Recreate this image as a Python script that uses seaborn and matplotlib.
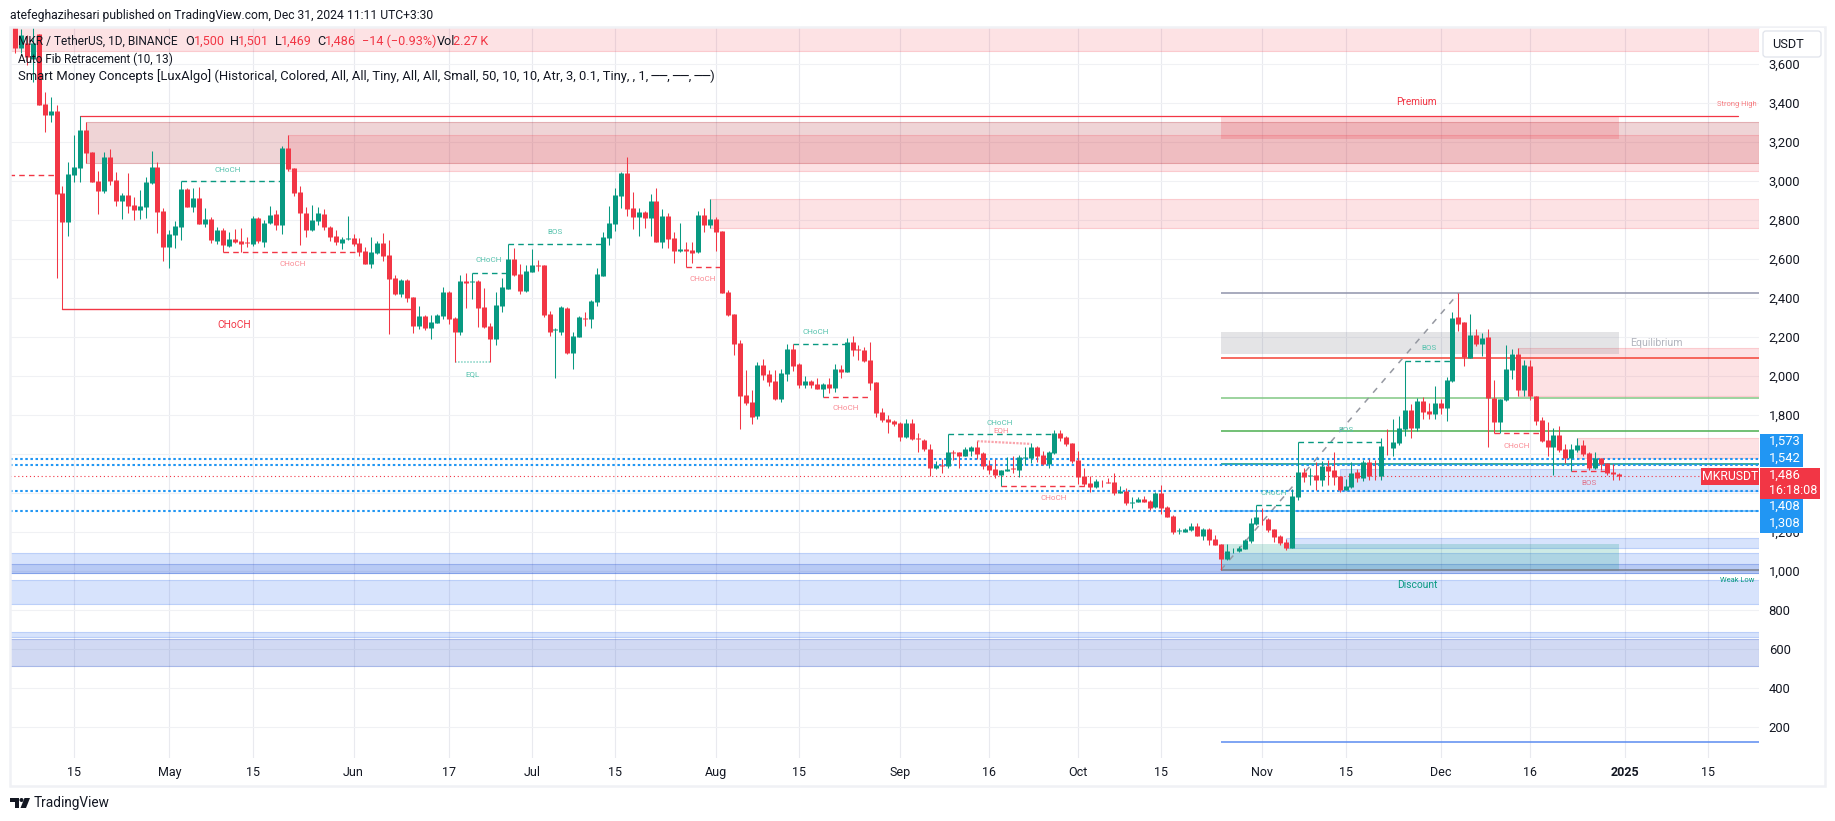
import numpy as np
import pandas as pd
import matplotlib.pyplot as plt
from matplotlib.colors import to_rgba
from matplotlib.patches import Rectangle, Polygon, Circle, FancyBboxPatch
import seaborn as sns

# days are counted from Apr 15 2024, last candle Dec 31 = 260
first_day = -10
opens = [3900, 3682, 3709, 3624, 3754, 3395, 3338, 3359, 2938, 2791,
         3031, 3068, 3261, 3149, 2998, 2949, 3123, 3005, 2897, 2926,
         2877, 2851, 2868, 2988, 3072, 2846, 2661, 2723, 2766, 2959,
         2868, 2913, 2781, 2805, 2692, 2749, 2667, 2703, 2692, 2687,
         2677, 2810, 2687, 2785, 2831, 2776, 3169, 3067, 2944, 2834,
         2749, 2797, 2831, 2764, 2716, 2682, 2703, 2708, 2682, 2641,
         2574, 2631, 2682, 2621, 2503, 2421, 2492, 2405, 2256, 2308,
         2246, 2272, 2308, 2431, 2297, 2226, 2487, 2482, 2487, 2354,
         2256, 2190, 2359, 2446, 2600, 2523, 2436, 2533, 2569, 2569,
         2318, 2234, 2226, 2349, 2118, 2200, 2296, 2292, 2379, 2513,
         2708, 2780, 2923, 3041, 2862, 2815, 2841, 2810, 2897, 2687,
         2821, 2708, 2641, 2651, 2646, 2636, 2826, 2774, 2805, 2744,
         2431, 2318, 2169, 1903, 1867, 1795, 2056, 2010, 1974, 1882,
         2010, 2138, 2062, 1954, 1974, 1959, 1933, 1959, 1938, 2036,
         2020, 2174, 2138, 2133, 2082, 1969, 1815, 1780, 1769, 1759,
         1687, 1759, 1682, 1672, 1626, 1528, 1544, 1539, 1610, 1610,
         1590, 1615, 1636, 1605, 1544, 1523, 1492, 1513, 1528, 1518,
         1580, 1580, 1636, 1595, 1549, 1605, 1708, 1687, 1656, 1569,
         1487, 1451, 1431, 1456, 1455, 1456, 1400, 1410, 1350, 1354,
         1369, 1359, 1328, 1400, 1328, 1282, 1205, 1200, 1210, 1231,
         1180, 1215, 1164, 1138, 1062, 1106, 1103, 1113, 1154, 1243,
         1268, 1267, 1215, 1179, 1149, 1118, 1380, 1508, 1487, 1492,
         1467, 1538, 1518, 1487, 1415, 1431, 1508, 1477, 1559, 1499,
         1487, 1642, 1631, 1656, 1728, 1826, 1733, 1872, 1821, 1805,
         1862, 1836, 1974, 2303, 2277, 2092, 2210, 2164, 2200, 1887,
         1764, 1877, 2031, 2113, 1928, 2051, 1897, 1774, 1672, 1636,
         1697, 1626, 1579, 1620, 1646, 1605, 1528, 1579, 1554, 1508,
         1500]
closes = [3682, 3749, 3634, 3706, 3390, 3338, 3359, 2935, 2791, 3036,
          3072, 3261, 3145, 2996, 2949, 3123, 3000, 2897, 2928, 2872,
          2851, 2872, 2995, 3072, 2843, 2661, 2728, 2769, 2959, 2868,
          2913, 2781, 2805, 2699, 2749, 2673, 2703, 2687, 2677, 2684,
          2810, 2692, 2785, 2824, 2776, 3169, 3063, 2940, 2838, 2750,
          2800, 2836, 2764, 2713, 2689, 2703, 2706, 2679, 2636, 2574,
          2636, 2682, 2615, 2497, 2421, 2492, 2400, 2256, 2308, 2246,
          2277, 2313, 2431, 2292, 2226, 2487, 2477, 2485, 2349, 2251,
          2190, 2364, 2457, 2600, 2518, 2436, 2538, 2569, 2564, 2313,
          2226, 2239, 2354, 2118, 2205, 2303, 2292, 2385, 2523, 2713,
          2785, 2928, 3041, 2856, 2815, 2841, 2810, 2897, 2687, 2821,
          2703, 2641, 2651, 2641, 2631, 2826, 2774, 2805, 2738, 2426,
          2313, 2164, 1897, 1862, 1790, 2056, 2005, 1969, 1882, 2015,
          2138, 2051, 1954, 1974, 1954, 1933, 1959, 1938, 2036, 2020,
          2174, 2133, 2136, 2077, 1966, 1812, 1774, 1764, 1754, 1687,
          1759, 1677, 1675, 1626, 1528, 1544, 1539, 1610, 1605, 1590,
          1626, 1636, 1600, 1539, 1518, 1492, 1518, 1523, 1523, 1585,
          1585, 1636, 1590, 1549, 1610, 1708, 1682, 1651, 1564, 1482,
          1446, 1431, 1462, 1455, 1453, 1400, 1410, 1349, 1354, 1369,
          1354, 1323, 1400, 1323, 1277, 1200, 1209, 1215, 1231, 1180,
          1215, 1159, 1133, 1062, 1103, 1109, 1118, 1159, 1246, 1275,
          1266, 1210, 1174, 1144, 1118, 1385, 1508, 1482, 1490, 1467,
          1538, 1513, 1482, 1415, 1436, 1502, 1477, 1559, 1487, 1496,
          1641, 1639, 1662, 1733, 1826, 1733, 1872, 1815, 1805, 1862,
          1836, 1980, 2297, 2267, 2097, 2210, 2164, 2195, 1887, 1764,
          1882, 2036, 2113, 1928, 2056, 1897, 1769, 1667, 1636, 1697,
          1620, 1579, 1626, 1646, 1600, 1528, 1579, 1549, 1503, 1497,
          1486]
highs = [3950, 3778, 3749, 3788, 3754, 3458, 3429, 3390, 2974, 3096,
         3236, 3332, 3301, 3149, 3051, 3150, 3162, 3048, 2937, 3039,
         2920, 2954, 3019, 3154, 3099, 2860, 2749, 2795, 2999, 2962,
         2964, 2967, 2861, 2817, 2766, 2757, 2738, 2754, 2757, 2714,
         2820, 2817, 2800, 2872, 2851, 3179, 3236, 3067, 2974, 2868,
         2877, 2868, 2856, 2771, 2749, 2711, 2821, 2728, 2706, 2660,
         2713, 2692, 2733, 2697, 2518, 2497, 2497, 2405, 2359, 2313,
         2313, 2318, 2457, 2436, 2303, 2518, 2528, 2526, 2492, 2451,
         2272, 2431, 2503, 2677, 2656, 2574, 2569, 2651, 2595, 2569,
         2333, 2244, 2361, 2354, 2226, 2308, 2326, 2390, 2554, 2738,
         2872, 2964, 3046, 3123, 2944, 2862, 2846, 2933, 2964, 2856,
         2836, 2738, 2785, 2687, 2687, 2846, 2862, 2908, 2815, 2744,
         2441, 2318, 2185, 2031, 1928, 2072, 2087, 2031, 2031, 2036,
         2164, 2164, 2067, 2000, 1980, 1990, 1964, 1990, 2062, 2056,
         2195, 2205, 2159, 2149, 2174, 1969, 1836, 1800, 1774, 1764,
         1780, 1780, 1708, 1677, 1651, 1564, 1574, 1701, 1620, 1610,
         1636, 1641, 1667, 1610, 1569, 1574, 1518, 1585, 1590, 1595,
         1636, 1657, 1641, 1615, 1615, 1723, 1723, 1692, 1656, 1615,
         1528, 1487, 1472, 1467, 1477, 1503, 1436, 1426, 1380, 1380,
         1385, 1364, 1405, 1441, 1333, 1287, 1221, 1221, 1246, 1246,
         1221, 1221, 1185, 1138, 1138, 1118, 1128, 1164, 1272, 1338,
         1323, 1272, 1215, 1185, 1164, 1421, 1660, 1528, 1528, 1559,
         1564, 1569, 1610, 1487, 1472, 1559, 1523, 1569, 1572, 1569,
         1682, 1728, 1779, 1795, 2075, 1856, 1887, 1892, 1860, 1949,
         1882, 1995, 2328, 2426, 2277, 2318, 2241, 2221, 2241, 1980,
         1882, 2159, 2138, 2144, 2082, 2082, 1897, 1790, 1764, 1733,
         1744, 1651, 1651, 1682, 1672, 1610, 1610, 1579, 1554, 1549,
         1501]
lows = [3655, 3655, 3595, 3509, 3390, 3253, 3304, 2504, 2342, 2718,
        2996, 2996, 3094, 2996, 2832, 2940, 2979, 2872, 2805, 2834,
        2800, 2803, 2812, 2985, 2735, 2591, 2555, 2658, 2697, 2868,
        2843, 2780, 2762, 2680, 2675, 2634, 2660, 2680, 2634, 2660,
        2667, 2684, 2661, 2780, 2749, 2730, 3053, 2925, 2672, 2715,
        2745, 2774, 2747, 2692, 2672, 2651, 2698, 2667, 2617, 2574,
        2554, 2626, 2590, 2215, 2415, 2405, 2380, 2221, 2241, 2236,
        2190, 2272, 2292, 2267, 2072, 2210, 2349, 2395, 2251, 2246,
        2072, 2159, 2328, 2446, 2513, 2421, 2431, 2533, 2538, 2303,
        2205, 1990, 2210, 2113, 2036, 2200, 2256, 2246, 2359, 2513,
        2672, 2744, 2862, 2821, 2754, 2718, 2759, 2718, 2687, 2656,
        2656, 2580, 2636, 2557, 2580, 2631, 2738, 2759, 2641, 2426,
        2308, 2108, 1728, 1851, 1754, 1779, 1980, 1949, 1877, 1867,
        1974, 2026, 1938, 1938, 1938, 1933, 1891, 1913, 1918, 1990,
        2020, 2103, 2082, 2072, 1928, 1790, 1764, 1708, 1744, 1667,
        1682, 1672, 1610, 1615, 1487, 1523, 1503, 1528, 1569, 1528,
        1590, 1590, 1574, 1523, 1497, 1477, 1434, 1513, 1503, 1482,
        1544, 1554, 1559, 1544, 1528, 1600, 1667, 1641, 1554, 1446,
        1436, 1405, 1426, 1431, 1451, 1390, 1400, 1338, 1323, 1354,
        1354, 1313, 1323, 1292, 1277, 1190, 1190, 1200, 1205, 1180,
        1159, 1133, 1133, 1005, 1056, 1091, 1098, 1113, 1144, 1236,
        1236, 1200, 1149, 1133, 1108, 1118, 1364, 1456, 1441, 1415,
        1436, 1440, 1441, 1405, 1415, 1426, 1456, 1462, 1467, 1467,
        1467, 1595, 1590, 1646, 1692, 1682, 1718, 1779, 1781, 1779,
        1805, 1769, 1969, 2231, 2051, 2092, 2154, 2103, 1636, 1706,
        1708, 1872, 1985, 1897, 1897, 1877, 1749, 1662, 1590, 1492,
        1610, 1554, 1513, 1610, 1590, 1518, 1523, 1518, 1492, 1467,
        1469]

tick_days = [0, 16, 30, 47, 63, 77, 91, 108, 122, 139, 154, 169, 183, 200, 214, 230, 245, 261, 275]
tick_names = ["15", "May", "15", "Jun", "17", "Jul", "15", "Aug", "15", "Sep", "16",
              "Oct", "15", "Nov", "15", "Dec", "16", "2025", "15"]
price_ticks = [200, 400, 600, 800, 1000, 1200, 1400, 1600, 1800, 2000, 2200, 2400,
               2600, 2800, 3000, 3200, 3400, 3600]

# order blocks: first day, top price, bottom price
red_start = [-11, 2, 36, 107, 243, 253]
red_top = [3800, 3301, 3236, 2906, 2142, 1680]
red_bottom = [3668, 3094, 3053, 2761, 1899, 1581]
blue_start = [-11, -11, -11, -11, -11, 204, 213]
blue_top = [1091, 1034, 956, 689, 649, 1169, 1522]
blue_bottom = [990, 990, 833, 662, 512, 1117, 1411]

# premium / equilibrium / discount boxes, day 193 to day 260
box_days = [193, 260]
premium_range = [3333, 3214]
equilibrium_range = [2226, 2113]
discount_range = [1137, 1000]

# fib levels, drawn from day 193 to the right edge
fib_prices = [2424, 2091, 1886, 1716, 1547, 1309, 1005, 123]
fib_colors = ["#8f93ab", "#F44336", "#81C784", "#4CAF50", "#089981", "#64B5F6", "#787B86", "#5B8CF0"]
fib_swing_days = [193, 233]
fib_swing_prices = [1005, 2424]

strong_high = 3332
strong_high_days = [1, 280]
alert_prices = [1573, 1542, 1408, 1308]
last_price = 1486

# market structure: start, end, price
green_start = [18, 67, 73, 121, 147, 199, 206, 224]
green_end = [35, 73, 89, 130, 165, 205, 220, 232]
green_price = [2999, 2527, 2675, 2162, 1701, 1337, 1660, 2075]
red_line_start = [-11, 25, 103, 126, 156, 239, 252]
red_line_end = [-3, 48, 109, 134, 171, 247, 258]
red_line_price = [3029, 2635, 2557, 1891, 1434, 1706, 1512]
major_choch = [-2, 57, 2342]
eql_days = [64, 70]
eql_prices = [2072, 2072]
eqh_days = [152, 161]
eqh_prices = [1666, 1652]

GREEN = "#089981"
RED = "#F23645"
TEXT = "#131722"
BLUE = "#2196F3"
FONT = "Roboto"

W, H = 1835, 821
sns.set_theme(style="white", rc={"axes.grid": False, "axes.facecolor": "white"})
plt.rcParams["font.family"] = [FONT, "DejaVu Sans"]

days = np.arange(first_day, first_day + len(opens))
sides = np.where(np.array(closes) >= np.array(opens), "up", "down")
palette = {"up": GREEN, "down": RED}
wicks = pd.DataFrame({
    "day": np.repeat(days, 2),
    "price": np.column_stack([highs, lows]).ravel(),
    "candle": np.repeat(days, 2),
    "side": np.repeat(sides, 2),
})
bodies = pd.DataFrame({
    "day": np.repeat(days, 2),
    "price": np.column_stack([opens, closes]).ravel(),
    "candle": np.repeat(days, 2),
    "side": np.repeat(sides, 2),
})

fig = plt.figure(figsize=(W / 100, H / 100), dpi=100, facecolor="white")
ax = fig.add_axes([10 / W, 1 - 758 / H, 1749 / W, 731 / H])
ax.set_xlim(-10.83, 283.6)
ax.set_ylim(41, 3790)
right_edge = 283.6


def zone(start, top, bottom, color, alpha, end=right_edge, edge=0.3, z=2):
    ax.add_patch(Rectangle((start, bottom), end - start, top - bottom,
                           facecolor=to_rgba(color, alpha),
                           edgecolor=to_rgba(color, edge), lw=0.8, zorder=z))


for i, (s, t, b) in enumerate(zip(red_start, red_top, red_bottom)):
    if i == 1:
        zone(s, t, b, "#B22833", 0.2)
    else:
        zone(s, t, b, RED, 0.14, edge=0.2)
for i, (s, t, b) in enumerate(zip(blue_start, blue_top, blue_bottom)):
    if i == 1:
        zone(s, t, b, "#2450D0", 0.17, edge=0.3)
    elif i == 4:
        zone(s, t, b, "#4A6BD0", 0.25, edge=0.4)
    else:
        zone(s, t, b, "#2F6BF0", 0.19, edge=0.25)
zone(box_days[0], premium_range[0], premium_range[1], RED, 0.2, end=box_days[1], edge=0)
zone(box_days[0], equilibrium_range[0], equilibrium_range[1], "#787B86", 0.2, end=box_days[1], edge=0)
zone(box_days[0], discount_range[0], discount_range[1], GREEN, 0.2, end=box_days[1], edge=0)

for p, c in zip(fib_prices, fib_colors):
    ax.plot([box_days[0], right_edge], [p, p], color=c, lw=1.1, zorder=3, solid_capstyle="butt")
ax.plot(fib_swing_days, fib_swing_prices, color="#9598A1", lw=1.1, ls=(0, (4, 4.5)), zorder=3)

ax.plot(strong_high_days, [strong_high, strong_high], color=RED, lw=0.9, zorder=3)
for p in alert_prices:
    ax.axhline(p, color=BLUE, lw=1.5, ls=(0, (1.2, 1.25)), zorder=3)
ax.axhline(last_price, color=RED, lw=0.8, ls=(0, (1, 2.5)), zorder=3)

for s, e, p in zip(green_start, green_end, green_price):
    ax.plot([s, e], [p, p], color=GREEN, lw=1, ls=(0, (4, 3)), zorder=3)
for s, e, p in zip(red_line_start, red_line_end, red_line_price):
    ax.plot([s, e], [p, p], color=RED, lw=1, ls=(0, (4, 3)), zorder=3)
ax.plot(major_choch[:2], [major_choch[2]] * 2, color=RED, lw=1, zorder=3)
ax.plot(eql_days, eql_prices, color="#7FD1C2", lw=1.1, ls=(0, (1, 1)), zorder=3)
ax.plot(eqh_days, eqh_prices, color="#F9A5AD", lw=1.6, ls=(0, (1, 0.6)), zorder=3)

sns.lineplot(data=wicks, x="day", y="price", units="candle", hue="side", palette=palette,
             estimator=None, sort=False, linewidth=0.75, legend=False, ax=ax, zorder=4,
             solid_capstyle="butt")
sns.lineplot(data=bodies, x="day", y="price", units="candle", hue="side", palette=palette,
             estimator=None, sort=False, linewidth=3.6, legend=False, ax=ax, zorder=5,
             solid_capstyle="butt")

ax.set_xlim(-10.83, 283.6)
ax.set_ylim(41, 3790)
ax.set_xlabel("")
ax.set_ylabel("")
ax.yaxis.tick_right()
ax.set_xticks(tick_days)
ax.set_xticklabels(tick_names)
ax.set_yticks(price_ticks)
ax.set_yticklabels([f"{p:,}" for p in price_ticks])
ax.tick_params(axis="x", length=0, pad=6, labelsize=9, labelcolor=TEXT)
ax.tick_params(axis="y", length=0, pad=7, labelsize=9.4, labelcolor=TEXT)
ax.get_xticklabels()[tick_names.index("2025")].set_fontweight("bold")
ax.grid(axis="y", color="#F0F1F4", lw=0.8)
ax.grid(axis="x", color="#E9EAEF", lw=0.8)
ax.set_axisbelow(True)
for s in ax.spines.values():
    s.set_visible(False)

# overlay in pixel coordinates for legend text, price tags and frame
ov = fig.add_axes([0, 0, 1, 1], zorder=10)
ov.set_xlim(0, W)
ov.set_ylim(H, 0)
ov.axis("off")
ov.patch.set_alpha(0)

ov.add_patch(Rectangle((10, 27), 1815, 759, fill=False, ec="#F0F1F5", lw=1.8))


def label(x, y, s, color=TEXT, size=9.2, ha="left", **kw):
    ov.text(x, y, s, color=color, fontsize=size, ha=ha, va="center", **kw)


label(10, 15, "atefeghazihesari published on TradingView.com, Dec 31, 2024 11:11 UTC+3:30", size=8.7)
label(18, 41.5, "MKR / TetherUS, 1D, BINANCE", size=8.6)
for x, s, c in [(185, "O", TEXT), (193.5, "1,500", RED), (230, "H", TEXT), (238, "1,501", RED),
                (274.5, "L", TEXT), (281, "1,469", RED), (317, "C", TEXT), (325, "1,486", RED),
                (361.5, "\u221214 (\u22120.93%)", RED), (437, "Vol", TEXT), (453, "2.27\u2009K", RED)]:
    label(x, 41.5, s, c, size=9.1)
label(18, 59, "Auto Fib Retracement (10, 13)", size=8.5)
label(18, 76, "Smart Money Concepts [LuxAlgo] (Historical, Colored, All, All, Tiny, All, All, Small, 50, "
              "10, 10, Atr, 3, 0.1, Tiny, , 1, \u2500\u2500, \u2500\u2500, \u2500\u2500)", size=9.4)

SMALL = 5.8
LG = "#55C2AD"
LR = "#FA8A93"
for x, y, s, c in [(228, 170, "CHoCH", LG), (293, 264, "CHoCH", LR), (489, 260, "CHoCH", LG),
                   (555, 232, "BOS", LG), (472, 374, "EQL", LG), (703, 279, "CHoCH", LR),
                   (816, 332, "CHoCH", LG), (846, 408, "CHoCH", LR), (1000, 423, "CHoCH", LG),
                   (1001, 430.5, "EQH", LR), (1054, 498, "CHoCH", LR), (1274, 493, "CHoCH", LG),
                   (1346, 430, "BOS", LG), (1429, 348, "BOS", LG), (1517, 446, "CHoCH", LR),
                   (1589, 483, "BOS", "#E0738B")]:
    label(x, y, s, c, size=SMALL, ha="center")
label(234, 325, "CHoCH", RED, size=7.4, ha="center")
label(1416, 102, "Premium", RED, size=7.2, ha="center")
label(1656, 343, "Equilibrium", "#B2B5BE", size=7.6, ha="center")
label(1417, 585, "Discount", GREEN, size=7.4, ha="center")
label(1737, 105, "Strong High", "#F77C80", size=5.4, ha="center")
label(1737, 581, "Weak Low", GREEN, size=5.4, ha="center")

# USDT selector, it hides the top of the 3,600 label
ov.add_patch(Rectangle((1760, 28), 64, 32, fc="white", ec="none"))
ov.add_patch(FancyBboxPatch((1765, 33), 54, 22, boxstyle="round,pad=2,rounding_size=3",
                            fc="white", ec="#E0E3EB", lw=0.9))
label(1772, 44.7, "USDT", size=9.2)

# price tags
ov.add_patch(Rectangle((1760, 434), 43, 33, fc=BLUE, ec="none"))
ov.add_patch(Rectangle((1760, 499), 43, 34, fc=BLUE, ec="none"))
ov.add_patch(Rectangle((1760, 468), 60, 31, fc=RED, ec="none"))
ov.add_patch(Rectangle((1701, 468), 58, 17, fc=RED, ec="none"))
for y, s in [(441.7, "1,573"), (458.7, "1,542"), (506.7, "1,408"), (523.7, "1,308"), (475.5, "1,486")]:
    label(1768.5, y, s, "white", size=9.4)
label(1768.5, 490, "16:18:08", "white", size=9)
label(1730, 477, "MKRUSDT", "white", size=8.8, ha="center")

# TradingView logo
ov.add_patch(Polygon([(10, 798), (19, 798), (19, 808), (14.5, 808), (14.5, 802), (10, 802)], fc=TEXT, ec="none"))
ov.add_patch(Circle((21.5, 800), 2, fc=TEXT, ec="none"))
ov.add_patch(Polygon([(24.5, 798), (30, 798), (26, 808), (20.5, 808)], fc=TEXT, ec="none"))
label(33.5, 803, "TradingView", size=9.8)

fig.savefig("out.png", dpi=100)
